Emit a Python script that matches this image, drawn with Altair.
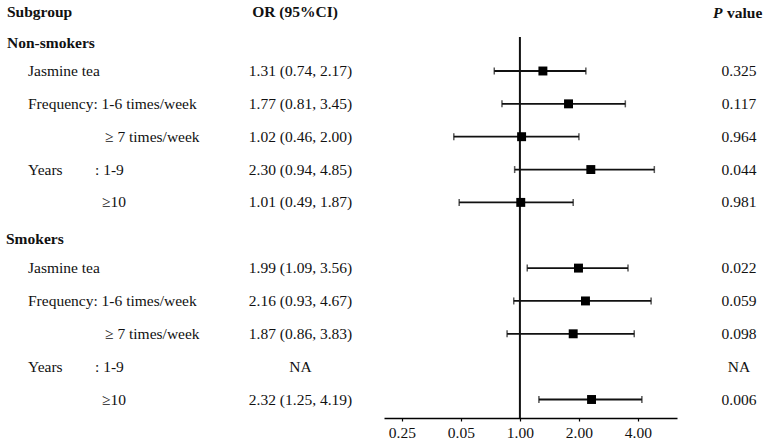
import altair as alt
import pandas as pd

# ---------------- data ----------------
group_names = ["Non-smokers", "Smokers"]
label_main = ["Jasmine tea", "Frequency: 1-6 times/week", "", "Years", "",
              "Jasmine tea", "Frequency: 1-6 times/week", "", "Years", ""]
label_sub = ["", "", "\u2265 7 times/week", ": 1-9", "\u226510",
             "", "", "\u2265 7 times/week", ": 1-9", "\u226510"]
or_est = [1.31, 1.77, 1.02, 2.30, 1.01, 1.99, 2.16, 1.87, None, 2.32]
ci_low = [0.74, 0.81, 0.46, 0.94, 0.49, 1.09, 0.93, 0.86, None, 1.25]
ci_high = [2.17, 3.45, 2.00, 4.85, 1.87, 3.56, 4.67, 3.83, None, 4.19]
or_text = ["1.31 (0.74, 2.17)", "1.77 (0.81, 3.45)", "1.02 (0.46, 2.00)",
           "2.30 (0.94, 4.85)", "1.01 (0.49, 1.87)", "1.99 (1.09, 3.56)",
           "2.16 (0.93, 4.67)", "1.87 (0.86, 3.83)", "NA", "2.32 (1.25, 4.19)"]
p_text = ["0.325", "0.117", "0.964", "0.044", "0.981",
          "0.022", "0.059", "0.098", "NA", "0.006"]
tick_values = [0.25, 0.5, 1, 2, 4]
tick_labels = ["0.25", "0.05", "1.00", "2.00", "4.00"]

# ---------------- layout ----------------
FONT = "Liberation Serif"
FS = 15.5
INK = "#111111"
rows = [2 + i for i in range(5)] + [8 + i for i in range(5)]
df = pd.DataFrame({
    "row": rows, "main": label_main, "sub": label_sub,
    "or": or_est, "lo": ci_low, "hi": ci_high,
    "ortext": or_text, "ptext": p_text,
})
hdr = pd.DataFrame({"row": [1, 7], "name": group_names})
top = pd.DataFrame({"row": [0]})

yscale = alt.Scale(domain=[2, 12], range=[71, 399.5], zero=False, nice=False)
Y = alt.Y("row:Q", scale=yscale, axis=None)

label_expr = " : ".join(
    f"datum.value == {v} ? '{t}'" for v, t in zip(tick_values, tick_labels)
) + " : ''"
xscale = alt.Scale(type="log", base=2, domain=[0.2026, 6.33], range=[384, 677])
X_axis = alt.Axis(values=tick_values, labelExpr=label_expr, title=None, grid=False)

est = df[df["or"].notna()]
best = alt.Chart(est)

ref = alt.Chart(top).mark_rule(color="#111", strokeWidth=2).encode(
    x=alt.datum(1, scale=xscale, axis=X_axis, type="quantitative"),
    y=alt.value(37), y2=alt.value(418))
ci = best.mark_rule(color="#111", strokeWidth=1.8).encode(
    x=alt.X("lo:Q", scale=xscale, axis=X_axis), x2="hi:Q", y=Y)
cap_lo = best.mark_tick(orient="vertical", size=7, thickness=1.5, color="#111").encode(
    x=alt.X("lo:Q", scale=xscale, axis=X_axis), y=Y)
cap_hi = best.mark_tick(orient="vertical", size=7, thickness=1.5, color="#111").encode(
    x=alt.X("hi:Q", scale=xscale, axis=X_axis), y=Y)
pts = best.mark_square(size=80, color="#000", opacity=1).encode(
    x=alt.X("or:Q", scale=xscale, axis=X_axis), y=Y)

def txt(data, field, x, align="left", weight="normal", dy=0, style="normal", flt=None):
    c = alt.Chart(data)
    if flt is not None:
        c = c.transform_filter(flt)
    return c.mark_text(font=FONT, fontSize=FS, align=align, baseline="middle",
                       fontWeight=weight, fontStyle=style, color=INK, dy=dy).encode(
        x=alt.value(x), y=Y, text=f"{field}:N")

layers = [
    ref, ci, cap_lo, cap_hi, pts,
    txt(df, "main", 28),
    txt(df, "sub", 95, flt=alt.datum.sub == ": 1-9"),
    txt(df, "sub", 105, flt=alt.datum.sub == "\u2265 7 times/week"),
    txt(df, "sub", 102, flt=alt.datum.sub == "\u226510"),
    txt(df, "ortext", 300.5, align="center"),
    txt(df, "ptext", 739, align="center"),
    txt(hdr[hdr.row == 1], "name", 7, weight="bold", dy=5),
    txt(hdr[hdr.row == 7], "name", 6, weight="bold", dy=4),
]

head = pd.DataFrame({"row": [0], "a": ["Subgroup"], "b": ["OR (95%CI)"],
                     "p": ["P"], "v": ["value"]})
layers += [
    txt(head, "a", 7, weight="bold", dy=7),
    txt(head, "b", 295, align="center", weight="bold", dy=7),
    txt(head, "p", 713, weight="bold", style="italic", dy=8),
    txt(head, "v", 727, weight="bold", dy=8),
]

chart = alt.layer(*layers).properties(
    width=767, height=418,
    padding={"left": 0, "top": 0, "right": 0, "bottom": 25},
    autosize="none", background="white"
).configure_view(stroke=None).configure_axisX(
    domainColor="#000", domainWidth=1.6, domainOpacity=1,
    tickColor="#000", tickSize=3, tickWidth=1.2, tickOpacity=1,
    labelFont=FONT, labelFontSize=FS, labelColor=INK,
    labelPadding=4, labelFlush=False, labelOverlap=False, grid=False
)

chart.save("out.html", embed_options={"renderer": "svg", "actions": False})
